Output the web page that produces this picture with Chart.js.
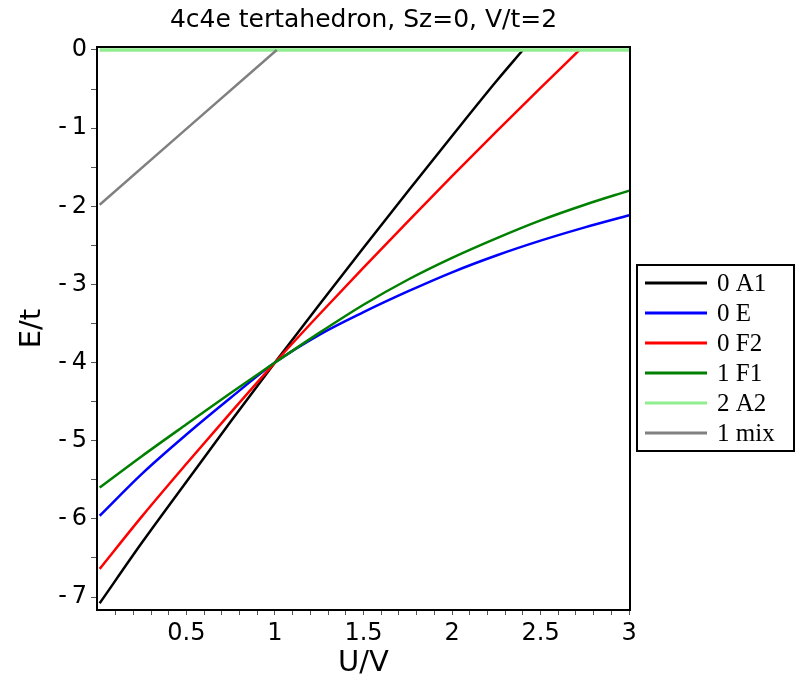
<!DOCTYPE html>
<html>
<head>
<meta charset="utf-8">
<script src="https://cdn.jsdelivr.net/npm/chart.js@4.4.1/dist/chart.umd.min.js"></script>
<style>
  html, body { margin: 0; padding: 0; background: #fff; }
  canvas { display: block; }
</style>
</head>
<body>
<canvas id="energyChart" width="797" height="686"></canvas>
<script>
// U/V sample positions and E/t readings for each level
const uA1 = [0.01, 0.25, 0.5, 0.75, 1, 1.25, 1.5, 1.75, 2, 2.25, 2.4];
const eA1 = [-7.08, -6.3, -5.525, -4.755, -4, -3.26, -2.53, -1.81, -1.1, -0.4, 0];
const uF2 = [0.01, 0.25, 0.5, 0.75, 1, 1.25, 1.5, 1.75, 2, 2.25, 2.5, 2.72];
const eF2 = [-6.64, -5.965, -5.295, -4.64, -4, -3.385, -2.785, -2.195, -1.615, -1.045, -0.485, 0];
const uFull = [0.01, 0.25, 0.5, 0.75, 1, 1.25, 1.5, 1.75, 2, 2.25, 2.5, 2.75, 3];
const eE  = [-5.96, -5.42, -4.92, -4.45, -4, -3.645, -3.355, -3.09, -2.845, -2.63, -2.44, -2.27, -2.115];
const eF1 = [-5.6, -5.195, -4.79, -4.39, -4, -3.62, -3.26, -2.94, -2.66, -2.41, -2.18, -1.98, -1.8];
const uA2 = [0.01, 3];
const eA2 = [0, 0];
const uMix = [0.01, 1.01];
const eMix = [-1.98, 0];

const seriesLabels = ['0 A1', '0 E', '0 F2', '1 F1', '2 A2', '1 mix'];
const seriesColors = ['#000000', '#0000ff', '#ff0000', '#008000', '#90ee90', '#808080'];

const xTickLabels = ['0.5', '1', '1.5', '2', '2.5', '3'];
const yTickLabels = ['0', '-1', '-2', '-3', '-4', '-5', '-6', '-7'];

const xMinor = [];
for (let i = 1; i <= 30; i++) xMinor.push(i / 10);
const yMinor = [];
for (let i = 0; i <= 14; i++) yMinor.push(-i / 2);

const pts = (xs, ys) => xs.map((x, i) => ({ x, y: ys[i] }));
const curves = [pts(uA1, eA1), pts(uFull, eE), pts(uF2, eF2), pts(uFull, eF1), pts(uA2, eA2), pts(uMix, eMix)];

function tickText(list, v) {
  const hit = list.find(s => Math.abs(parseFloat(s) - v) < 1e-6);
  if (hit === undefined) return '';
  return hit.startsWith('-') ? '-\u2009' + hit.slice(1) : hit;
}

// frame round the plot area
const frame = {
  id: 'frame',
  afterDatasetsDraw(chart) {
    const { ctx, chartArea: a } = chart;
    ctx.save();
    ctx.strokeStyle = '#000';
    ctx.lineWidth = 2;
    ctx.strokeRect(a.left, a.top, a.right - a.left, a.bottom - a.top);
    ctx.restore();
  }
};

// boxed legend on the right, Maple style
const boxLegend = {
  id: 'boxLegend',
  afterDraw(chart) {
    const { ctx, chartArea: a } = chart;
    const left = a.right + 7, top = 265, rowH = 30;
    const n = chart.data.datasets.length;
    ctx.save();
    ctx.strokeStyle = '#000';
    ctx.lineWidth = 2;
    ctx.strokeRect(left, top, 157, rowH * n + 6);
    ctx.font = '25px "Liberation Serif"';
    ctx.textBaseline = 'middle';
    chart.data.datasets.forEach((ds, i) => {
      const y = top + 18 + i * rowH;
      ctx.strokeStyle = ds.borderColor;
      ctx.lineWidth = 3;
      ctx.beginPath();
      ctx.moveTo(left + 8, y);
      ctx.lineTo(left + 70, y);
      ctx.stroke();
      ctx.fillStyle = '#000';
      ctx.fillText(ds.label, left + 80, y + 1);
    });
    ctx.restore();
  }
};

Chart.defaults.font.family = '"DejaVu Sans", sans-serif';
Chart.defaults.color = '#000';

new Chart(document.getElementById('energyChart'), {
  type: 'line',
  data: {
    datasets: curves.map((d, i) => ({
      label: seriesLabels[i],
      data: d,
      borderColor: seriesColors[i],
      backgroundColor: seriesColors[i],
      borderWidth: i === 4 ? 3.5 : 2.5,
      pointRadius: 0,
      cubicInterpolationMode: 'monotone',
      order: curves.length - 1 - i,
    })),
  },
  options: {
    responsive: false,
    animation: false,
    devicePixelRatio: 1,
    layout: { padding: { left: 0, right: 167, top: 0, bottom: 0 } },
    plugins: {
      legend: { display: false },
      tooltip: { enabled: false },
      title: {
        display: true,
        fullSize: false,
        text: '4c4e tertahedron, Sz=0, V/t=2',
        font: { size: 25, weight: 'normal' },
        color: '#000',
        padding: { top: 5, bottom: 12 },
      },
    },
    scales: {
      x: {
        type: 'linear',
        min: -0.005,
        max: 3.005,
        afterBuildTicks: s => { s.ticks = xMinor.map(v => ({ value: v })); },
        afterFit: s => { s.height = 76; },
        grid: { drawOnChartArea: false, tickLength: 5, tickColor: '#555', tickWidth: 1 },
        border: { display: false },
        ticks: { autoSkip: false, maxRotation: 0, padding: 4, font: { size: 24 }, color: '#000',
                 callback: v => tickText(xTickLabels, v) },
        title: { display: true, text: 'U/V', font: { size: 29 }, color: '#000', padding: { top: 0, bottom: 5 } },
      },
      y: {
        type: 'linear',
        min: -7.166,
        max: 0.038,
        afterBuildTicks: s => { s.ticks = yMinor.map(v => ({ value: v })); },
        afterFit: s => { s.width = 97; },
        grid: { drawOnChartArea: false, tickLength: 6, tickColor: '#555', tickWidth: 1 },
        border: { display: false },
        ticks: { autoSkip: false, padding: 4, font: { size: 24 }, color: '#000',
                 callback: v => tickText(yTickLabels, v) },
        title: { display: true, text: 'E/t', font: { size: 29 }, color: '#000', padding: { top: 15, bottom: 0 } },
      },
    },
  },
  plugins: [frame, boxLegend],
});
</script>
</body>
</html>
